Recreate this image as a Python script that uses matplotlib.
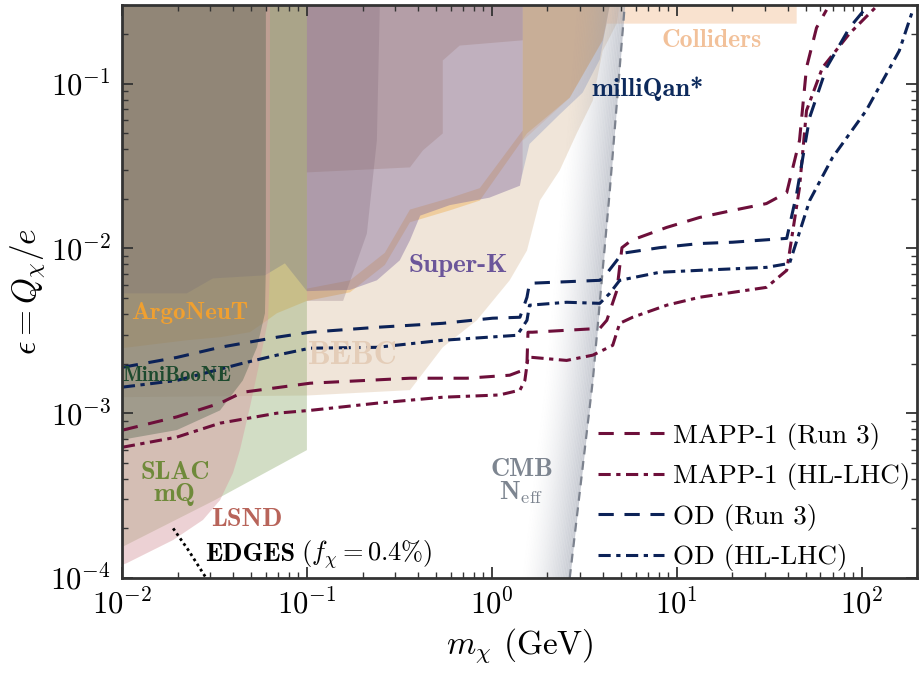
import matplotlib.pyplot as plt
import numpy as np

plt.rcParams["font.family"] = "serif"
plt.rcParams["font.serif"] = ["cmr10"]
plt.rcParams["mathtext.fontset"] = "cm"
plt.rcParams["axes.formatter.use_mathtext"] = True

# Excluded regions as closed outlines (mass in GeV, epsilon)
bebc_m = [0.01, 0.1, 0.361, 0.543, 0.83, 1.25, 1.55, 1.82, 2.33, 2.88, 3.52, 3.98, 4.74, 4.92, 4.92, 0.01]
bebc_eps = [1.25e-3, 1.28e-3, 1.38e-3, 2.51e-3, 3.66e-3, 6.4e-3, 9.7e-3, 1.95e-2, 2.97e-2, 4.98e-2, 7.88e-2, 0.158, 0.231, 0.3, 1, 1]

coll_m = [1.47, 2.64, 3.98, 4.19, 44.6, 44.6, 1.47]
coll_eps = [4.5e-2, 8.2e-2, 0.183, 0.231, 0.231, 1, 1]

upper_m = [0.1, 0.361, 0.424, 0.543, 0.543, 0.67, 1.47, 1.47, 0.1]
upper_eps = [2.89e-2, 3.1e-2, 3.93e-2, 4.98e-2, 0.138, 0.17, 0.183, 1, 1]

argo_m = [0.01, 0.0224, 0.0339, 0.0492, 0.0578, 0.0688, 0.1, 0.171, 0.264, 0.361, 0.593, 0.861, 1.55, 2.64, 3.98, 4.35,
          4.35, 1.47, 1.47, 0.861, 0.593, 0.361, 0.264, 0.171, 0.1, 0.1, 0.01]
argo_eps = [2.48e-3, 2.77e-3, 2.89e-3, 3.1e-3, 3.51e-3, 4.04e-3, 4.8e-3, 5.41e-3, 7.93e-3, 1.44e-2, 1.7e-2, 1.95e-2, 4.98e-2, 8.21e-2, 0.183, 0.3,
            1, 1, 0.052, 0.0232, 0.0202, 0.0172, 0.0094, 0.0064, 0.0057, 1, 1]

superk_m = [0.01, 0.0224, 0.031, 0.0593, 0.076, 0.1, 0.171, 0.239, 0.318, 0.361, 0.41, 0.593, 0.97, 1.42, 1.47, 1.47, 0.01]
superk_eps = [5.33e-3, 5.33e-3, 6.57e-3, 6.86e-3, 8.11e-3, 5.5e-3, 5.6e-3, 6.4e-3, 8.46e-3, 1.12e-2, 1.58e-2, 1.83e-2, 2.03e-2, 2.4e-2, 3.0e-2, 1, 1]

mq_m = [1.42, 1.6, 2.33, 3.1, 3.84, 4.35, 4.35, 1.47, 1.47]
mq_eps = [2.45e-2, 4.3e-2, 6.5e-2, 8.8e-2, 0.14, 0.3, 1, 1, 3.0e-2]

extra_m = [0.1, 0.157, 0.211, 0.239, 0.248, 0.248, 0.1]
extra_eps = [4.8e-3, 4.8e-3, 1.23e-2, 4.52e-2, 0.3, 1, 1]

slac_m = [0.01, 0.0318, 0.1, 0.1, 0.01]
slac_eps = [1.54e-4, 2.97e-4, 5.97e-4, 1, 1]

lsnd_m = [0.01, 0.0106, 0.0189, 0.0274, 0.0339, 0.0398, 0.0434, 0.0492, 0.0557, 0.0616, 0.0631, 0.0631, 0.01]
lsnd_eps = [1.2e-4, 1.23e-4, 1.7e-4, 2.25e-4, 2.97e-4, 4.33e-4, 5.97e-4, 1.09e-3, 2.09e-3, 3.66e-3, 7.36e-3, 1, 1]

mbn_m = [0.01, 0.0198, 0.0339, 0.045, 0.0537, 0.0593, 0.06, 0.06, 0.01]
mbn_eps = [6.9e-4, 7.9e-4, 1.04e-3, 1.58e-3, 2.51e-3, 4.04e-3, 8e-3, 1, 1]

# CMB N_eff edge and EDGES line
cmb_m = [2.64, 3.52, 4.35, 5.24]
cmb_eps = [1e-4, 1.58e-3, 2.25e-2, 0.3]
edges_m = [0.0189, 0.0228, 0.0285]
edges_eps = [2.0e-4, 1.48e-4, 1.0e-4]

# Projected sensitivities
mapp3_m = [0.0101, 0.0198, 0.0339, 0.045, 0.104, 0.361, 0.733, 1.25, 1.47, 1.55, 1.57, 1.66, 3.84, 4.19, 4.75, 5.06, 5.7, 8.83, 13.3, 20.1, 30.6, 39.4, 46.2, 50.4, 57.1, 64.7]
mapp3_eps = [7.9e-4, 9.5e-4, 1.15e-3, 1.34e-3, 1.52e-3, 1.63e-3, 1.63e-3, 1.7e-3, 1.82e-3, 2.01e-3, 3.1e-3, 3.1e-3, 3.27e-3, 3.66e-3, 5.56e-3, 1.01e-2, 1.12e-2, 1.34e-2, 1.54e-2, 1.7e-2, 1.87e-2, 2.18e-2, 4.52e-2, 0.125, 0.218, 0.28]

mapphl_m = [0.0101, 0.0198, 0.0339, 0.0688, 0.104, 0.239, 0.543, 1.1, 1.42, 1.51, 1.57, 1.66, 2.54, 3.52, 4.51, 4.92, 5.78, 8.83, 13.3, 20.1, 30.6, 39.4, 46.2, 50.4, 61.5, 86.1, 130]
mapphl_eps = [6.22e-4, 7.16e-4, 8.7e-4, 1.0e-3, 1.04e-3, 1.15e-3, 1.25e-3, 1.29e-3, 1.38e-3, 1.58e-3, 2.18e-3, 2.18e-3, 2.09e-3, 2.25e-3, 2.58e-3, 3.51e-3, 3.82e-3, 4.52e-3, 5.05e-3, 5.41e-3, 5.8e-3, 7.36e-3, 2.34e-2, 6.86e-2, 0.125, 0.201, 0.32]

od3_m = [0.0101, 0.0198, 0.0339, 0.0688, 0.104, 0.239, 0.543, 1.01, 1.42, 1.55, 1.6, 3.84, 4.19, 4.75, 5.06, 8.09, 13.3, 20.1, 39.4, 44.6, 52.4, 64.7, 86.1, 106]
od3_eps = [1.9e-3, 2.18e-3, 2.51e-3, 2.89e-3, 3.1e-3, 3.32e-3, 3.51e-3, 3.77e-3, 3.82e-3, 5.05e-3, 6.14e-3, 6.4e-3, 7.05e-3, 8.46e-3, 9.33e-3, 1.01e-2, 1.07e-2, 1.09e-2, 1.15e-2, 2.15e-2, 6.22e-2, 0.125, 0.218, 0.289]

odhl_m = [0.0101, 0.0198, 0.045, 0.0688, 0.104, 0.239, 0.543, 1.37, 1.55, 1.6, 2.54, 3.84, 4.35, 4.92, 8.09, 13.3, 30.6, 40.8, 52.4, 69.7, 106, 160, 189]
odhl_eps = [1.44e-3, 1.58e-3, 2.01e-3, 2.25e-3, 2.48e-3, 2.51e-3, 2.77e-3, 2.97e-3, 3.66e-3, 4.52e-3, 4.71e-3, 4.64e-3, 5.34e-3, 6.4e-3, 7.16e-3, 7.36e-3, 7.67e-3, 8.11e-3, 1.95e-2, 3.56e-2, 6.86e-2, 0.158, 0.277]

maroon = "#6d0f3a"
navy = "#0c2257"

fig = plt.figure(figsize=(9.19, 6.75), dpi=100)
ax = fig.add_axes([0.1328, 0.1437, 0.8652, 0.849])
ax.set_xscale("log")
ax.set_yscale("log")

regions = [
    (bebc_m, bebc_eps, "#e3cdb4", 0.5),
    (coll_m, coll_eps, "#f3bf95", 0.45),
    (argo_m, argo_eps, "#eea232", 0.35),
    (superk_m, superk_eps, "#86709f", 0.45),
    (mq_m, mq_eps, "#7083b8", 0.3),
    (upper_m, upper_eps, "#9a7672", 0.3),
    (extra_m, extra_eps, "#7a6070", 0.25),
    (slac_m, slac_eps, "#8aa868", 0.38),
    (lsnd_m, lsnd_eps, "#d79aa0", 0.45),
    (mbn_m, mbn_eps, "#3f5a44", 0.35),
]
for xs, ys, c, a in regions:
    ax.fill(xs, ys, color=c, alpha=a, lw=0)

# CMB band: grey fading to the left of the N_eff edge
yy = np.logspace(-4, np.log10(0.3), 200)
edge = 10 ** np.interp(np.log10(yy), np.log10(cmb_eps), np.log10(cmb_m))
n = 30
for i in range(n):
    lo = edge * 10 ** (-0.26 * (i + 1) / n)
    hi = edge * 10 ** (-0.26 * i / n)
    ax.fill_betweenx(yy, lo, hi, color="#9aa0ae", alpha=0.55 * (1 - i / n) ** 1.5, lw=0)
ax.plot(cmb_m, cmb_eps, color="#7c828e", lw=1.6, ls=(0, (4, 3)))

ax.plot(edges_m, edges_eps, color="black", lw=2, ls=(0, (1, 1.2)))

ax.plot(mapp3_m, mapp3_eps, color=maroon, lw=2.2, ls=(0, (5, 3.5)), label="MAPP-1 (Run 3)")
ax.plot(mapphl_m, mapphl_eps, color=maroon, lw=2.2, ls=(0, (4, 1.8, 1.4, 1.8)), label="MAPP-1 (HL-LHC)")
ax.plot(od3_m, od3_eps, color=navy, lw=2.2, ls=(0, (5, 3.5)), label="OD (Run 3)")
ax.plot(odhl_m, odhl_eps, color=navy, lw=2.2, ls=(0, (4, 1.8, 1.4, 1.8)), label="OD (HL-LHC)")

bold = dict(family="cmb10", ha="center", va="center")
ax.text(15.5, 0.183, "Colliders", color="#f2c19a", fontsize=18.5, **bold)
ax.text(6.97, 0.093, "milliQan*", color="#0d2a5c", fontsize=19, **bold)
ax.text(0.66, 7.9e-3, "Super-K", color="#6b559a", fontsize=19.5, **bold)
ax.text(0.0232, 4.04e-3, "ArgoNeuT", color="#f0a030", fontsize=18, **bold)
ax.text(0.178, 2.25e-3, "BEBC", color="#e4cdb8", fontsize=23, **bold)
ax.text(0.0198, 1.7e-3, "MiniBooNE", color="#1d4a2e", fontsize=15, **bold)
ax.text(0.0193, 3.75e-4, "SLAC\nmQ", color="#6f8a3a", fontsize=19, linespacing=0.95, **bold)
ax.text(0.0475, 2.25e-4, "LSND", color="#b8645a", fontsize=19, **bold)
ax.text(1.45, 3.82e-4, "CMB\nN$_{\\mathrm{eff}}$", color="#7d8590", fontsize=19, linespacing=0.95, **bold)
ax.text(0.0281, 1.38e-4, "EDGES", color="black", fontsize=19, family="cmb10", ha="left", va="center")
ax.text(0.093, 1.38e-4, "$(f_\\chi = 0.4\\%)$", color="black", fontsize=19, ha="left", va="center")

ax.legend(loc="upper left", bbox_to_anchor=(0.585, 0.29), frameon=False, fontsize=19.5,
          handlelength=2.45, handletextpad=0.3, labelspacing=0.5, borderaxespad=0)

ax.set_xlim(1e-2, 2e2)
ax.set_ylim(1e-4, 0.3)
ax.set_xlabel("$m_\\chi$ (GeV)", fontsize=24, labelpad=4)
ax.set_ylabel("$\\epsilon = Q_\\chi/e$", fontsize=24, labelpad=2)
ax.tick_params(which="both", direction="in", top=True, right=True, labelsize=22, color="#333333")
ax.tick_params(which="major", length=8, width=1.3, pad=8)
ax.tick_params(which="minor", length=4, width=1.0)
for s in ax.spines.values():
    s.set_linewidth(2)
    s.set_color("#333333")

fig.savefig("out.png", dpi=100)
